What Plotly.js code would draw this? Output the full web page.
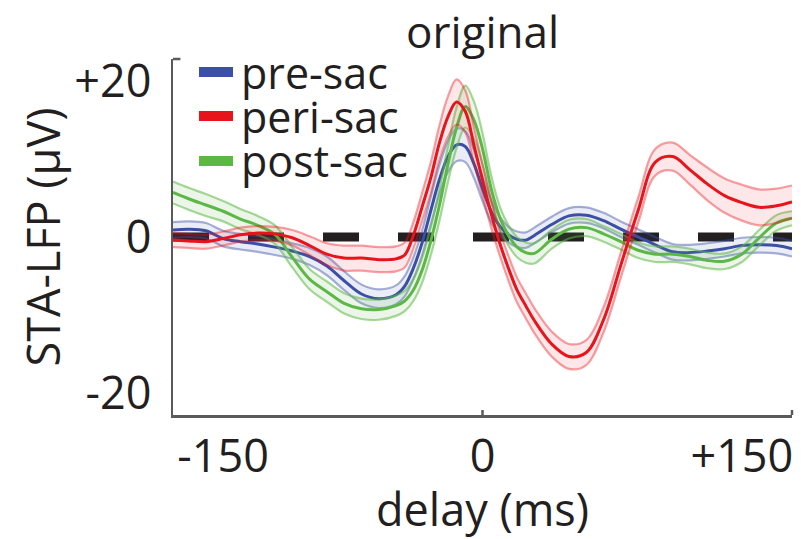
<!DOCTYPE html>
<html>
<head>
<meta charset="utf-8">
<script src="https://cdn.plot.ly/plotly-3.0.1.min.js"></script>
<style>html,body{margin:0;padding:0;background:#fff;}#chart{width:805px;height:539px;}</style>
</head>
<body>
<div id="chart"></div>
<script>
// delay (ms)
var delay = [-179,-170,-160,-150,-140,-130,-120,-110,-100,-90,-80,-70,-60,-50,-45,-40,-35,-30,-25,-20,-15,-10,-5,0,5,10,15,20,25,30,40,50,60,70,80,90,100,110,120,130,140,150,160,170,179];

// pre-sac (blue) mean and half-width of band
var preSac = [0.9,1.0,0.8,-0.2,-0.6,-0.9,-1.3,-1.8,-2.5,-3.7,-5.6,-7.3,-7.9,-7.4,-6.3,-4.0,-0.8,3.3,7.3,10.3,11.8,11.6,9.4,6.2,3.3,1.4,0.3,-0.3,-0.4,0.2,1.6,2.7,2.8,2.1,1.0,0.0,-1.0,-1.9,-2.0,-1.8,-1.5,-1.1,-1.0,-1.1,-1.5];
var preSacErr = [1.0,1.0,1.0,1.0,1.0,1.0,1.0,1.0,1.1,1.2,1.2,1.2,1.2,1.2,1.3,1.4,1.6,1.8,1.9,2.0,2.1,2.0,1.8,1.6,1.4,1.2,1.0,1.0,1.0,1.0,1.0,1.0,1.0,1.0,1.0,1.0,1.0,1.0,1.0,1.0,1.0,1.0,1.0,1.0,1.0];

// peri-sac (red)
var periSac = [-0.4,-0.5,-0.6,-0.2,0.3,0.5,0.4,-0.1,-1.1,-2.2,-2.7,-2.7,-2.9,-2.8,-2.3,0.2,3.8,7.5,12.0,15.4,17.3,16.1,11.8,7.3,3.0,-0.8,-4.0,-6.8,-8.8,-10.7,-13.7,-15.3,-14.8,-10.6,-3.6,3.4,9.6,10.3,8.6,6.8,5.3,4.4,3.8,4.0,4.5];
var periSacErr = [0.9,0.9,0.9,0.9,0.9,0.9,0.9,1.0,1.2,1.4,1.6,1.6,1.6,1.6,1.6,1.7,1.8,2.0,2.2,2.6,2.9,2.7,2.3,2.0,1.8,1.6,1.6,1.6,1.6,1.6,1.6,1.6,1.6,1.6,1.6,1.6,1.7,1.8,1.9,2.1,2.2,2.3,2.3,2.2,2.1];

// post-sac (green)
var postSac = [5.7,4.9,4.1,3.3,2.3,1.5,0.3,-2.6,-5.4,-7.0,-8.5,-9.2,-9.3,-8.8,-8.2,-6.8,-4.3,-0.6,4.0,9.3,14.0,16.7,15.0,11.3,6.2,2.5,0.2,-1.3,-2.0,-2.1,-0.3,1.0,1.2,0.4,-0.6,-1.7,-2.2,-2.2,-2.5,-3.0,-3.1,-2.2,-0.1,1.8,2.4];
var postSacErr = [1.4,1.4,1.4,1.3,1.3,1.2,1.2,1.3,1.3,1.3,1.3,1.3,1.3,1.3,1.3,1.4,1.6,1.8,2.0,2.3,2.6,2.7,2.4,2.0,1.7,1.4,1.3,1.3,1.3,1.3,1.2,1.2,1.1,1.0,1.0,1.0,1.0,1.0,1.0,1.0,1.0,1.0,1.0,1.0,0.9];

var seriesNames = ['pre-sac','peri-sac','post-sac'];
var xTicks = [-150, 0, 150];
var xTickText = ['-150', '0', '+150'];
var yTicks = [-20, 0, 20];
var yTickText = ['-20', '0', '+20'];
var xTitle = 'delay (ms)';
var yTitle = 'STA-LFP (μV)';
var chartTitle = 'original';

var FONT = 'Open Sans, sans-serif';
var TXT = '#231f20';
var FS = 45;
var colors = {
  'pre-sac':  {line:'#3b4fa6', edge:'rgba(59,79,166,0.45)', fill:'rgba(59,79,166,0.10)'},
  'peri-sac': {line:'#e8141c', edge:'rgba(232,20,28,0.40)', fill:'rgba(232,20,28,0.10)'},
  'post-sac': {line:'#5cb846', edge:'rgba(92,184,70,0.55)', fill:'rgba(92,184,70,0.12)'}
};

function band(name, mean, err) {
  var c = colors[name];
  var lo = mean.map(function(v,i){return v - err[i];});
  var hi = mean.map(function(v,i){return v + err[i];});
  var sm = {shape:'spline', smoothing:1.0};
  return [
    {x: delay, y: lo, mode:'lines', line: Object.assign({color:c.edge, width:2.2}, sm), showlegend:false, hoverinfo:'skip'},
    {x: delay, y: hi, mode:'lines', fill:'tonexty', fillcolor:c.fill, line: Object.assign({color:c.edge, width:2.2}, sm), showlegend:false, hoverinfo:'skip'},
    {x: delay, y: mean, mode:'lines', name:name, line: Object.assign({color:c.line, width:3}, sm), showlegend:false}
  ];
}

var data = [].concat(
  band('pre-sac', preSac, preSacErr),
  band('post-sac', postSac, postSacErr),
  band('peri-sac', periSac, periSacErr)
);

// plot area pixels
var L = 173, R = 792, T = 59, B = 415, W = 805, H = 539;

var shapes = [
  // zero reference line (dashed, thick)
  {type:'line', layer:'below', xref:'paper', yref:'y', x0:0, x1:1, y0:0, y1:0,
   line:{color:'#231f20', width:9, dash:'36px,39px'}},
  // tick marks at axis ends and 0
  {type:'line', xref:'x', yref:'paper', x0:0, x1:0, y0:0, y1:0.014, line:{color:'#5a5a5a', width:2.5}},
  {type:'line', xref:'paper', yref:'paper', x0:1, x1:1, y0:0, y1:0.014, line:{color:'#5a5a5a', width:2.5}},
  {type:'line', xref:'paper', yref:'paper', x0:0, x1:0.012, y0:1, y1:1, line:{color:'#5a5a5a', width:2.5}}
];

var annotations = [];
var legY = [72, 116, 161];
seriesNames.forEach(function(n, i){
  var c = colors[n];
  shapes.push({type:'line', xref:'paper', yref:'paper', x0:(199-L)/(R-L), x1:(233-L)/(R-L),
    y0:1-(legY[i]-T)/(B-T), y1:1-(legY[i]-T)/(B-T), line:{color:c.line, width:10}});
  annotations.push({xref:'paper', yref:'paper', x:(239-L)/(R-L), y:1-(legY[i]-T)/(B-T),
    xanchor:'left', yanchor:'middle', showarrow:false, text:n,
    font:{family:FONT, size:43, color:TXT}});
});
// x-axis title placed as text below the tick labels
annotations.push({xref:'paper', yref:'paper', x:0.5, y:1-(508-T)/(B-T), xanchor:'center', yanchor:'middle',
  showarrow:false, text:xTitle, font:{family:FONT, size:FS, color:TXT}});

var layout = {
  width: W, height: H,
  margin: {l: L, r: W - R, t: T, b: H - B, pad: 0},
  paper_bgcolor: '#fff', plot_bgcolor: '#fff',
  showlegend: false,
  font: {family: FONT, size: FS, color: TXT},
  title: {text: chartTitle, font: {family: FONT, size: 44, color: TXT},
          x: 0.5, xanchor: 'center', xref:'paper', yref: 'container', y: 1 - 33/H, yanchor: 'middle'},
  xaxis: {
    range: [-179, 179], showgrid: false, zeroline: false,
    showline: true, linecolor: '#5a5a5a', linewidth: 2.5,
    tickmode: 'array', tickvals: xTicks, ticktext: xTickText,
    ticks: '', ticklabelstandoff: 0,
    tickfont: {family: FONT, size: FS, color: TXT}
  },
  yaxis: {
    range: [-22.8, 22.8], showgrid: false, zeroline: false,
    showline: true, linecolor: '#5a5a5a', linewidth: 2.5,
    tickmode: 'array', tickvals: yTicks, ticktext: yTickText,
    ticks: '', ticklabelstandoff: 10,
    tickfont: {family: FONT, size: FS, color: TXT},
    title: {text: yTitle, font: {family: FONT, size: FS, color: TXT}, standoff: 0}
  },
  shapes: shapes,
  annotations: annotations
};

Plotly.newPlot('chart', data, layout, {displayModeBar: false, staticPlot: true});
</script>
</body>
</html>
